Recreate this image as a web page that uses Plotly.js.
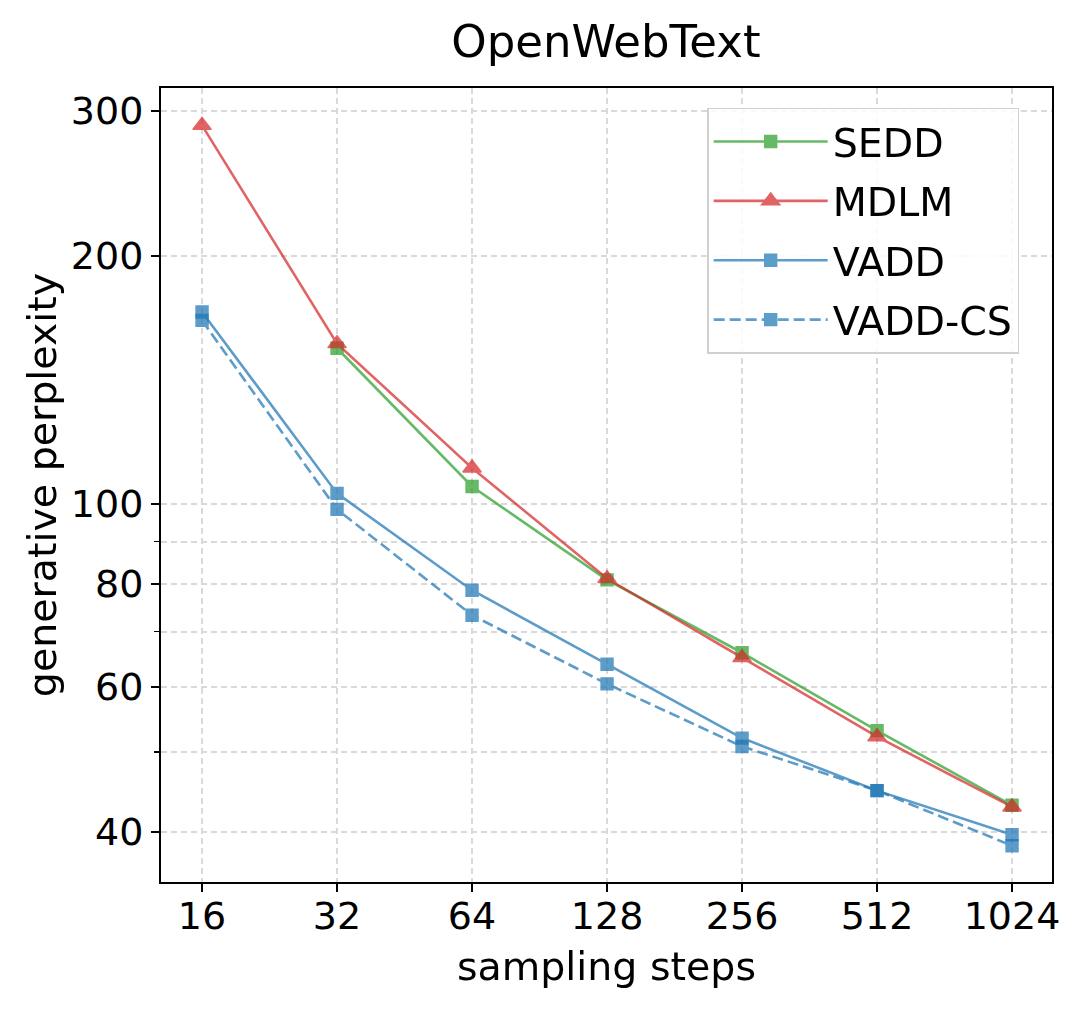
<!DOCTYPE html>
<html>
<head>
<meta charset="utf-8">
<script src="https://cdn.plot.ly/plotly-3.0.1.min.js"></script>
<style>html,body{margin:0;padding:0;background:#fff;}#chart{width:1080px;height:1009px;}</style>
</head>
<body>
<div id="chart"></div>
<script>
const steps = [16, 32, 64, 128, 256, 512, 1024];
const stepLabels = ["16", "32", "64", "128", "256", "512", "1024"];
const seddSteps = [32, 64, 128, 256, 512, 1024];
const sedd = [154.5, 105, 80.9, 66.0, 53.1, 43.1];
const mdlm = [288, 156.5, 110.6, 81.2, 65.1, 52.2, 42.9];
const vadd = [171, 103, 78.6, 63.9, 52.0, 44.9, 39.7];
const vaddCs = [167, 98.5, 73.3, 60.5, 50.8, 44.9, 38.5];
const yMajor = [40, 60, 80, 100, 200, 300];
const yMinor = [50, 70, 90];

const FONT = "DejaVu Sans, sans-serif";
const FS = 39.5;
const TFS = 38;
const green = "#2ca02c", red = "#d62728", blue = "#1f77b4";

function tr(name, x, y, color, symbol, size, dash) {
  return {
    type: "scatter", mode: "lines+markers", name: name, x: x, y: y,
    legendgroup: name, opacity: 0.72,
    line: {color: color, width: 2.6, dash: dash || "solid"},
    marker: {color: color, symbol: symbol, size: size, line: {color: color, width: 1.4}}
  };
}

const data = [
  tr("SEDD", seddSteps, sedd, green, "square", 12),
  tr("MDLM", steps, mdlm, red, "triangle-up", 16),
  tr("VADD", steps, vadd, blue, "square", 12),
  tr("VADD-CS", steps, vaddCs, blue, "square", 12, "11px,5px")
];

const gridCol = "#d9d9d9";
const layout = {
  width: 1080, height: 1009,
  margin: {l: 161, r: 28, t: 88, b: 127},
  paper_bgcolor: "#fff", plot_bgcolor: "#fff",
  font: {family: FONT, size: FS, color: "#000"},
  title: {text: "OpenWebText", font: {family: FONT, size: 45, color: "#000"},
          x: 0.561, xanchor: "center", y: 0.959, yanchor: "middle", yref: "container"},
  showlegend: true,
  legend: {x: 0.613, xanchor: "left", y: 0.975, yanchor: "top",
           bgcolor: "rgba(255,255,255,0.85)", bordercolor: "#d0d0d0", borderwidth: 1.5,
           font: {family: FONT, size: FS, color: "#000"}, tracegroupgap: 5, itemwidth: 114},
  xaxis: {
    type: "log", range: [Math.log10(Math.pow(2, 3.696)), Math.log10(Math.pow(2, 10.296))],
    tickmode: "array", tickvals: steps, ticktext: stepLabels,
    ticks: "outside", ticklen: 8, tickwidth: 2, tickcolor: "#000", ticklabelstandoff: -9,
    showline: true, linecolor: "#000", linewidth: 2, mirror: true,
    showgrid: true, gridcolor: gridCol, gridwidth: 2, griddash: "6px,4px",
    zeroline: false, tickfont: {family: FONT, size: TFS, color: "#000"},
    title: {text: "sampling steps", font: {family: FONT, size: FS, color: "#000"}, standoff: 16}
  },
  yaxis: {
    type: "log", range: [1.5414, 2.5047],
    tickmode: "array", tickvals: yMajor, ticktext: yMajor.map(String),
    ticks: "outside", ticklen: 8, tickwidth: 2, tickcolor: "#000",
    showline: true, linecolor: "#000", linewidth: 2, mirror: true,
    showgrid: true, gridcolor: gridCol, gridwidth: 2, griddash: "6px,4px",
    zeroline: false, tickfont: {family: FONT, size: TFS, color: "#000"},
    minor: {tickmode: "array", tickvals: yMinor, ticks: "outside", ticklen: 5, tickwidth: 1.5,
            tickcolor: "#000", showgrid: true, gridcolor: gridCol, gridwidth: 2, griddash: "6px,4px"},
    title: {text: "generative perplexity", font: {family: FONT, size: FS, color: "#000"}, standoff: 2}
  }
};

Plotly.newPlot("chart", data, layout, {displayModeBar: false, staticPlot: true});
</script>
</body>
</html>
